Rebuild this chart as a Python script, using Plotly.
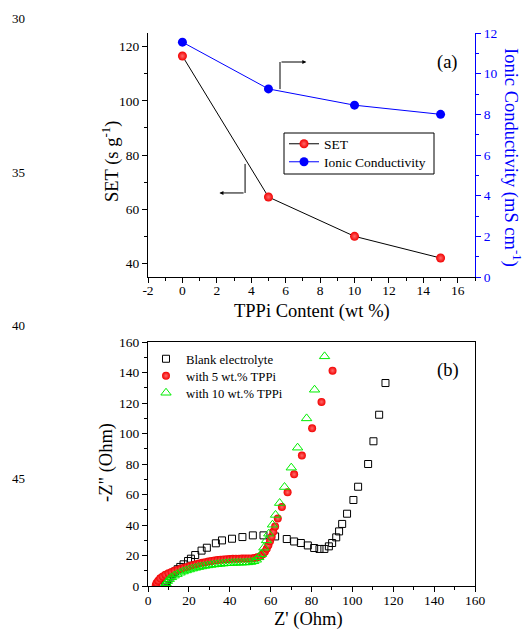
import plotly.graph_objects as go

W, H = 524, 629
FONT = "Liberation Serif"

# ---------- Panel (a) data ----------
tppi = [0, 5, 10, 15]
set_vals = [116.5, 64.5, 50.0, 42.0]
ionic_vals = [11.55, 9.25, 8.45, 8.0]
x_a_ticks = [-2, 0, 2, 4, 6, 8, 10, 12, 14, 16]
x_a_labels = ["-2", "0", "2", "4", "6", "8", "10", "12", "14", "16"]

# ---------- Panel (b) data ----------
blank_x = [116.2, 113.1, 110.3, 107.7, 102.8, 100.5, 97.4, 95.0, 93.5, 92.1, 90.1, 88.5,
           86.3, 83.9, 81.3, 78.2, 74.8, 71.5, 67.9, 62.2, 56.5, 51.3, 46.2, 41.1, 36.2,
           33.2, 28.8, 26.2, 23.1, 21.0, 19.6, 17.4, 15.8, 14.5, 13.2, 12.0, 11.0, 10.0,
           9.2, 8.6, 8.2]
blank_y = [133.1, 112.3, 94.9, 80.0, 65.1, 56.4, 47.4, 40.7, 35.8, 31.9, 28.2, 26.0,
           24.3, 24.3, 24.9, 26.6, 28.2, 29.2, 30.8, 32.5, 33.2, 33.2, 32.1, 31.0, 29.9,
           28.0, 25.1, 23.2, 20.3, 17.9, 16.4, 14.2, 12.5, 11.0, 9.5, 8.0, 6.5, 5.0,
           3.5, 2.0, 0.5]

tppi5_x = [3.8, 4.2, 5.0, 6.0, 7.2, 8.5, 10.0, 11.5, 13.0, 14.5, 16.0, 17.5, 19.0, 20.5,
           22.0, 23.5, 25.0, 26.5, 28.0, 29.5, 31.0, 32.5, 34.0, 35.5, 37.0, 38.5, 40.0,
           41.5, 43.0, 44.5, 46.0, 47.5, 49.0, 50.5, 52.0, 53.5, 55.0, 56.2, 57.2, 58.1,
           58.9, 59.7, 60.5, 61.3, 62.2, 63.5, 65.5, 68.3, 71.5, 75.3, 80.3, 84.9, 90.3]
tppi5_y = [0.5, 2.0, 3.5, 5.0, 6.3, 7.4, 8.4, 9.2, 10.0, 10.7, 11.3, 11.9, 12.5, 13.1,
           13.7, 14.2, 14.7, 15.2, 15.6, 16.0, 16.4, 16.7, 17.0, 17.2, 17.4, 17.6, 17.7,
           17.8, 17.9, 17.9, 18.0, 18.0, 18.0, 18.1, 18.3, 18.8, 19.5, 20.8, 22.5, 24.5,
           26.8, 29.4, 32.3, 35.5, 39.0, 44.2, 51.8, 61.4, 73.2, 85.5, 103.4, 120.7, 141.2]

tppi10_x = [8.3, 8.8, 9.5, 10.4, 11.5, 12.8, 14.2, 15.7, 17.2, 18.7, 20.2, 21.7, 23.2,
            24.7, 26.2, 27.7, 29.2, 30.7, 32.2, 33.7, 35.2, 36.7, 38.2, 39.7, 41.2, 42.7,
            44.2, 45.7, 47.2, 48.7, 50.2, 51.7, 53.0, 54.2, 55.4, 56.7, 58.0, 59.1, 60.9,
            62.4, 64.4, 66.8, 70.1, 73.2, 77.6, 81.5, 86.4]
tppi10_y = [0.5, 1.8, 3.2, 4.5, 5.7, 6.8, 7.8, 8.7, 9.5, 10.2, 10.8, 11.4, 11.9, 12.4,
            12.8, 13.2, 13.5, 13.8, 14.1, 14.3, 14.5, 14.7, 14.9, 15.0, 15.1, 15.2, 15.3,
            15.3, 15.4, 15.5, 15.7, 16.2, 17.2, 18.8, 20.8, 25.1, 29.9, 34.3, 40.2, 46.6,
            54.4, 64.9, 77.6, 90.7, 109.9, 128.7, 150.6]

line_numbers = ["30", "35", "40", "45", "50"]


def px(x):
    return x / W


def py(y):
    return 1 - y / H


RED = "#f20000"
RED_HI = "#ff6a6a"

fig = go.Figure()

# Panel (a)
fig.add_trace(go.Scatter(
    x=tppi, y=set_vals, name="SET", mode="lines+markers",
    line=dict(color="black", width=1),
    marker=dict(symbol="circle", size=9, color=RED,
                gradient=dict(type="radial", color=RED_HI),
                line=dict(width=0)),
    xaxis="x", yaxis="y", legend="legend"))
fig.add_trace(go.Scatter(
    x=tppi, y=ionic_vals, name="Ionic Conductivity", mode="lines+markers",
    line=dict(color="#0000ff", width=1),
    marker=dict(symbol="circle", size=9, color="#0000ff", line=dict(width=0)),
    xaxis="x", yaxis="y2", legend="legend5"))

# Panel (b)
fig.add_trace(go.Scatter(
    x=blank_x, y=blank_y, name="Blank electrolyte", mode="markers",
    marker=dict(symbol="square-open", size=7, color="black", line=dict(width=1)),
    xaxis="x2", yaxis="y3", legend="legend2"))
fig.add_trace(go.Scatter(
    x=tppi5_x, y=tppi5_y, name="with 5 wt.% TPPi", mode="markers",
    marker=dict(symbol="circle", size=8, color=RED,
                gradient=dict(type="radial", color=RED_HI),
                line=dict(width=0)),
    xaxis="x2", yaxis="y3", legend="legend3"))
fig.add_trace(go.Scatter(
    x=tppi10_x, y=tppi10_y, name="with 10 wt.% TPPi", mode="markers",
    marker=dict(symbol="triangle-up-open", size=9, color="#00ee00", line=dict(width=1)),
    xaxis="x2", yaxis="y3", legend="legend4"))

tickfont = dict(family=FONT, size=13.5, color="black")
axis_common = dict(showgrid=False, zeroline=False, showline=True, linecolor="black",
                   linewidth=1, ticks="outside", ticklen=5, tickcolor="black",
                   tickfont=tickfont, automargin=False)

dom_a_x = [px(148), px(475)]
dom_a_y = [py(277), py(33)]
dom_b_x = [px(148), px(475)]
dom_b_y = [py(586), py(342)]


def leg(x, y, size):
    return dict(x=px(x), y=py(y), xanchor="left", yanchor="middle",
                borderwidth=0, bgcolor="rgba(0,0,0,0)",
                font=dict(family=FONT, size=size, color="black"),
                itemwidth=30, tracegroupgap=0)


fig.update_layout(
    template="none",
    width=W, height=H,
    margin=dict(l=0, r=0, t=0, b=0, pad=0),
    paper_bgcolor="white", plot_bgcolor="white",
    font=dict(family=FONT, color="black"),
    xaxis=dict(domain=dom_a_x, range=[-2, 17], anchor="y", tickmode="array",
               tickvals=x_a_ticks, ticktext=x_a_labels, ticklabelstandoff=-4,
               minor=dict(ticks="outside", ticklen=3, dtick=1, tick0=-2, tickcolor="black"),
               **axis_common),
    xaxis3=dict(domain=dom_a_x, range=[-2, 17], anchor="y", overlaying="x", side="top",
                showgrid=False, zeroline=False, showline=True, linecolor="black",
                ticks="inside", ticklen=5, tickcolor="black", showticklabels=False,
                tickvals=x_a_ticks, automargin=False,
                minor=dict(ticks="inside", ticklen=3, dtick=1, tick0=-2, tickcolor="black")),
    yaxis=dict(domain=dom_a_y, range=[35, 125], anchor="x", tickvals=[40, 60, 80, 100, 120],
               minor=dict(ticks="outside", ticklen=3, dtick=10, tick0=40, tickcolor="black"),
               **axis_common),
    yaxis2=dict(domain=dom_a_y, range=[0, 12], anchor="x", overlaying="y", side="right",
                showgrid=False, zeroline=False, showline=True, linecolor="#0000ff",
                linewidth=1, ticks="outside", ticklen=5, tickcolor="#0000ff",
                tickvals=[0, 2, 4, 6, 8, 10, 12], automargin=False,
                tickfont=dict(family=FONT, size=13.5, color="#0000ff"),
                minor=dict(ticks="outside", ticklen=3, dtick=1, tick0=0, tickcolor="#0000ff")),
    xaxis2=dict(domain=dom_b_x, range=[0, 160], anchor="y3", mirror=True,
                tickvals=list(range(0, 161, 20)), ticklabelstandoff=-3,
                minor=dict(ticks="outside", ticklen=3, dtick=10, tick0=0, tickcolor="black"),
                **axis_common),
    yaxis3=dict(domain=dom_b_y, range=[0, 160], anchor="x2", mirror=True,
                tickvals=list(range(0, 161, 20)),
                minor=dict(ticks="outside", ticklen=3, dtick=10, tick0=0, tickcolor="black"),
                **axis_common),
    legend=leg(284, 144, 13.5),
    legend5=leg(284, 162, 13.5),
    legend2=leg(146, 359, 12.7),
    legend3=leg(146, 376, 12.7),
    legend4=leg(146, 393, 12.7),
    showlegend=True,
)

annots = []


def ann(text, x, y, size=18.5, angle=0, color="black"):
    annots.append(dict(text=text, x=px(x), y=py(y), xref="paper", yref="paper",
                       showarrow=False, textangle=angle, xanchor="center", yanchor="middle",
                       font=dict(family=FONT, size=size, color=color)))


ann("SET (s g<sup>-1</sup>)", 110, 162, angle=-90)
ann("Ionic Conductivity (mS cm<sup>-1</sup>)", 512, 157, angle=90, color="#0000ff")
ann("TPPi Content (wt %)", 312, 311)
ann("(a)", 447, 63)
ann("(b)", 448, 370)
ann('-Z" (Ohm)', 106, 463, angle=-90)
ann("Z' (Ohm)", 308, 619)
for i, t in enumerate(line_numbers):
    ann(t, 18, 19 + i * 153.3, size=13)

# arrows in panel (a)
annots.append(dict(x=7.2, y=114.3, ax=5.67, ay=114.3, xref="x", yref="y", axref="x", ayref="y",
                   text="", showarrow=True, arrowhead=2, arrowsize=0.8, arrowwidth=1,
                   arrowcolor="black"))
annots.append(dict(x=2.15, y=66.0, ax=3.64, ay=66.0, xref="x", yref="y", axref="x", ayref="y",
                   text="", showarrow=True, arrowhead=2, arrowsize=0.8, arrowwidth=1,
                   arrowcolor="black"))
fig.update_layout(annotations=annots)

fig.add_shape(type="line", x0=5.67, x1=5.67, y0=104.3, y1=114.3, xref="x", yref="y",
              line=dict(color="black", width=1))
fig.add_shape(type="line", x0=3.64, x1=3.64, y0=76.7, y1=66.0, xref="x", yref="y",
              line=dict(color="black", width=1))
# legend frame of panel (a)
fig.add_shape(type="rect", x0=px(284), x1=px(434), y0=py(174), y1=py(133),
              xref="paper", yref="paper", line=dict(color="black", width=1),
              fillcolor="white", layer="below")

fig.write_html("out.html")
